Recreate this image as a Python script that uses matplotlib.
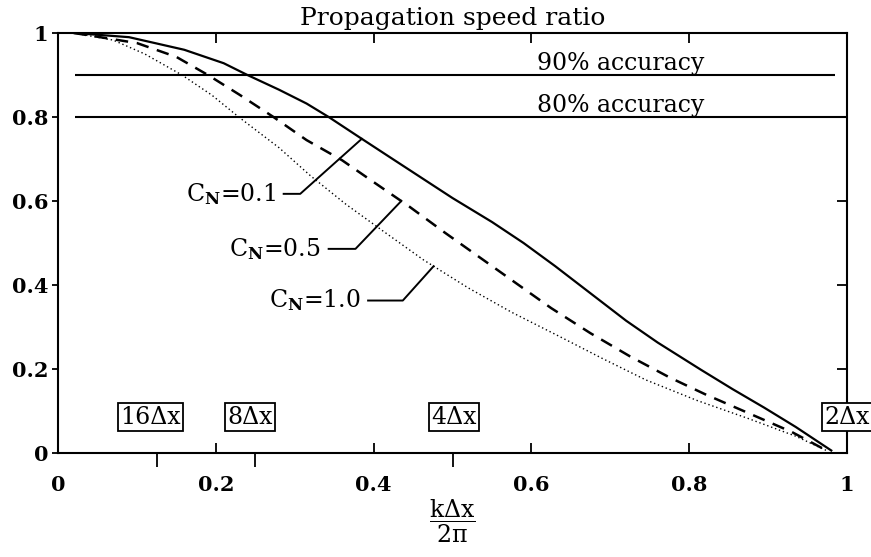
import numpy as np
import matplotlib.pyplot as plt

plt.rcParams['font.family'] = 'DejaVu Serif'
plt.rcParams['mathtext.fontset'] = 'dejavuserif'

# propagation speed ratio vs. k dx / 2pi
x_c01 = [0.02, 0.09, 0.16, 0.21, 0.24, 0.28, 0.315, 0.343, 0.385, 0.42, 0.46,
         0.50, 0.55, 0.59, 0.63, 0.675, 0.72, 0.76, 0.815, 0.855, 0.895, 0.935, 0.98]
y_c01 = [1.0, 0.99, 0.96, 0.928, 0.9, 0.865, 0.832, 0.8, 0.748, 0.705, 0.656,
         0.607, 0.55, 0.5, 0.445, 0.38, 0.315, 0.263, 0.198, 0.152, 0.108, 0.062, 0.006]

x_c05 = [0.02, 0.10, 0.15, 0.19, 0.23, 0.273, 0.315, 0.36, 0.40, 0.445, 0.49,
         0.535, 0.58, 0.625, 0.675, 0.725, 0.775, 0.82, 0.875, 0.93, 0.975]
y_c05 = [1.0, 0.976, 0.943, 0.9, 0.853, 0.8, 0.745, 0.697, 0.645, 0.587, 0.525,
         0.465, 0.405, 0.345, 0.285, 0.23, 0.18, 0.14, 0.095, 0.05, 0.005]

x_c10 = [0.02, 0.07, 0.11, 0.157, 0.195, 0.229, 0.28, 0.32, 0.365, 0.413, 0.463,
         0.52, 0.575, 0.635, 0.69, 0.745, 0.81, 0.875, 0.935, 0.975]
y_c10 = [1.0, 0.983, 0.95, 0.9, 0.852, 0.8, 0.727, 0.66, 0.592, 0.527, 0.46,
         0.393, 0.335, 0.278, 0.225, 0.174, 0.125, 0.082, 0.04, 0.005]

cn_labels = [r'C$_\mathbf{N}$=0.1', r'C$_\mathbf{N}$=0.5', r'C$_\mathbf{N}$=1.0']

acc_levels = [0.9, 0.8]
acc_labels = ['90% accuracy', '80% accuracy']
acc_start = [0.022, 0.022]
acc_end = [0.985, 1.0]

wave_pos = [0.117, 0.243, 0.502, 1.0]
wave_labels = ['16\u0394x', '8\u0394x', '4\u0394x', '2\u0394x']
minor_pos = [0.125, 0.25, 0.5]

xticks = [0, 0.2, 0.4, 0.6, 0.8, 1]
xtick_labels = ['0', '0.2', '0.4', '0.6', '0.8', '1']
yticks = [0, 0.2, 0.4, 0.6, 0.8, 1]
ytick_labels = ['0', '0.2', '0.4', '0.6', '0.8', '1']

fig = plt.figure(figsize=(8.71, 5.57), dpi=100)
ax = fig.add_axes([0.0666, 0.1867, 0.9059, 0.7541])

curves = [(x_c01, y_c01, dict(lw=1.6, ls='-')),
          (x_c05, y_c05, dict(lw=1.8, ls=(0, (5, 3.5)))),
          (x_c10, y_c10, dict(lw=1.0, ls=(0, (1, 2))))]
for xs, ys, st in curves:
    ax.plot(xs, ys, color='black', **st)

# accuracy reference lines
for lev, lab, x0, x1 in zip(acc_levels, acc_labels, acc_start, acc_end):
    ax.hlines(lev, x0, x1, color='black', lw=1.5, clip_on=False)
    ax.text(0.607, lev + 0.012, lab, fontsize=17, va='baseline')

# labels with leader lines pointing at each curve
lab_right = [0.276, 0.333, 0.384]
lab_y = [0.617, 0.486, 0.363]
lead_x0 = [0.286, 0.343, 0.393]
lead_x1 = [0.307, 0.377, 0.437]
tip_x = [0.385, 0.435, 0.476]
for (xs, ys, _), lab, xr, yl, a, b, tx in zip(curves, cn_labels, lab_right, lab_y,
                                              lead_x0, lead_x1, tip_x):
    ty = np.interp(tx, xs, ys)
    ax.text(xr, yl, lab, fontsize=17, ha='right', va='center')
    ax.plot([a, b, tx], [yl, yl, ty], color='black', lw=1.4)

# wavelength markers
for xp, lab in zip(wave_pos, wave_labels):
    ax.text(xp, 0.085, lab, fontsize=17, ha='center', va='center', zorder=6,
            clip_on=False,
            bbox=dict(boxstyle='square,pad=0.1', fc='white', ec='black', lw=1.3))

ax.set_xlim(0, 1)
ax.set_ylim(0, 1)

ax.set_xticks(xticks)
ax.set_xticklabels(xtick_labels)
ax.set_xticks(minor_pos, minor=True)
ax.set_yticks(yticks)
ax.set_yticklabels(ytick_labels)
ax.tick_params(axis='x', which='major', direction='in', length=7, width=1.3,
               top=True, pad=16, labelsize=15)
ax.tick_params(axis='x', which='minor', direction='out', length=10, width=1.3,
               top=False)
ax.tick_params(axis='y', which='major', direction='out', length=4, width=1.3,
               pad=3, labelsize=15)
for t in [ax.yaxis.get_major_ticks()[0], ax.yaxis.get_major_ticks()[-1]]:
    t.tick1line.set_visible(False)
for lbl in ax.get_xticklabels() + ax.get_yticklabels():
    lbl.set_fontweight('bold')

for s in ax.spines.values():
    s.set_linewidth(1.5)

ax2 = ax.twinx()
ax2.set_ylim(0, 1)
ax2.set_yticks([0.2, 0.4, 0.6, 0.8])
ax2.tick_params(direction='in', length=7, width=1.3, labelright=False)
for s in ax2.spines.values():
    s.set_visible(False)

ax.set_title('Propagation speed ratio', fontsize=18, pad=6)
ax.set_xlabel(r'$\dfrac{\mathrm{k\Delta x}}{\mathrm{2\pi}}$', fontsize=17, labelpad=2)

fig.savefig('out.png', dpi=100)
